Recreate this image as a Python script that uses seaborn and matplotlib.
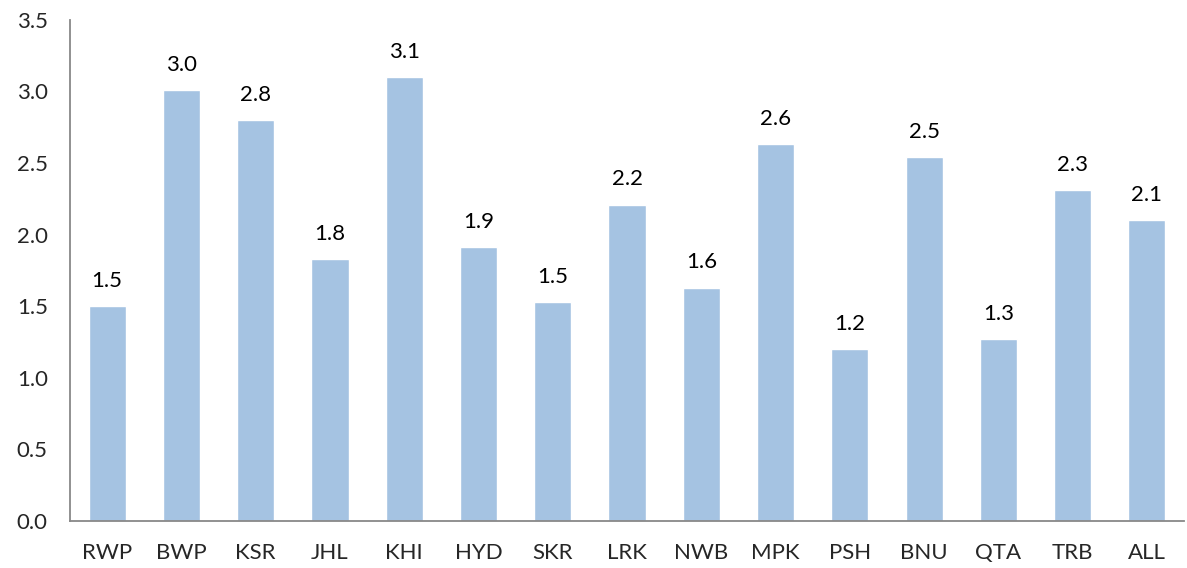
import numpy as np
import pandas as pd
import matplotlib
matplotlib.use('Agg')
import matplotlib.pyplot as plt
import seaborn as sns

# data
sites = ['RWP', 'BWP', 'KSR', 'JHL', 'KHI', 'HYD', 'SKR', 'LRK',
         'NWB', 'MPK', 'PSH', 'BNU', 'QTA', 'TRB', 'ALL']
values = [1.50, 3.01, 2.80, 1.83, 3.10, 1.91, 1.53, 2.21,
          1.63, 2.63, 1.20, 2.54, 1.27, 2.31, 2.10]
yticks = [0.0, 0.5, 1.0, 1.5, 2.0, 2.5, 3.0, 3.5]

df = pd.DataFrame({'site': sites, 'value': values})

sns.set_style('white')
plt.rcParams['font.family'] = ['Lato', 'DejaVu Sans']

fig = plt.figure(figsize=(11.87, 5.68), dpi=100)
ax = fig.add_axes([0.059, 0.083, 0.9385, 0.882])

sns.barplot(data=df, x='site', y='value', color='#A5C3E2', width=0.5,
            saturation=1, ax=ax)

# value labels above bars
for i, v in enumerate(values):
    ax.annotate(f'{v:.1f}', (i, v), xytext=(0, 11), textcoords='offset points',
                ha='center', va='bottom', fontsize=16, color='black')

ax.set_ylim(0, 3.5)
ax.set_xlim(-0.5, len(sites) - 0.5)
ax.set_yticks(yticks)
ax.set_yticklabels([f'{t:.1f}' for t in yticks], fontsize=16)
ax.set_xticks(range(len(sites)))
ax.set_xticklabels(sites, fontsize=16)
ax.set_xticks(np.arange(-0.5, len(sites)), minor=True)
ax.tick_params(axis='x', which='major', length=0, pad=16)
ax.tick_params(axis='x', which='minor', length=7, width=1.3, color='#888888', direction='out')
ax.tick_params(axis='y', length=7, width=1.3, color='#888888', direction='out', pad=9)
ax.set_xlabel('')
ax.set_ylabel('')

for s in ['top', 'right']:
    ax.spines[s].set_visible(False)
for s in ['left', 'bottom']:
    ax.spines[s].set_color('#888888')
    ax.spines[s].set_linewidth(1.3)

plt.savefig('out.png', dpi=100)
